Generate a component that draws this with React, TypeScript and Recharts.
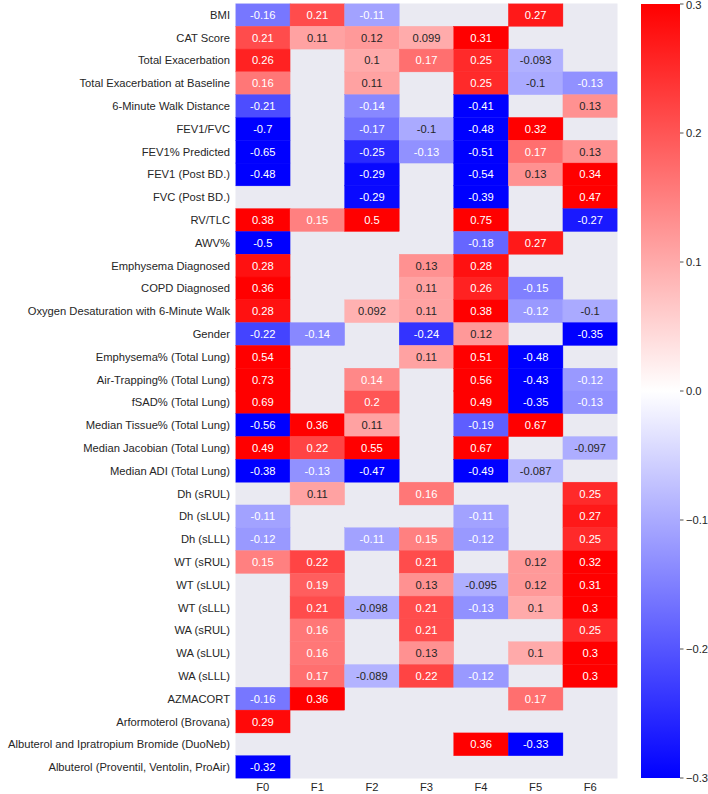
import React from 'react';
import {
  ScatterChart,
  Scatter,
  XAxis,
  YAxis,
  CartesianGrid,
  ComposedChart,
  ReferenceArea,
} from 'recharts';

const rowLabels = [
  'BMI',
  'CAT Score',
  'Total Exacerbation',
  'Total Exacerbation at Baseline',
  '6-Minute Walk Distance',
  'FEV1/FVC',
  'FEV1% Predicted',
  'FEV1 (Post BD.)',
  'FVC (Post BD.)',
  'RV/TLC',
  'AWV%',
  'Emphysema Diagnosed',
  'COPD Diagnosed',
  'Oxygen Desaturation with 6-Minute Walk',
  'Gender',
  'Emphysema% (Total Lung)',
  'Air-Trapping% (Total Lung)',
  'fSAD% (Total Lung)',
  'Median Tissue% (Total Lung)',
  'Median Jacobian (Total Lung)',
  'Median ADI (Total Lung)',
  'Dh (sRUL)',
  'Dh (sLUL)',
  'Dh (sLLL)',
  'WT (sRUL)',
  'WT (sLUL)',
  'WT (sLLL)',
  'WA (sRUL)',
  'WA (sLUL)',
  'WA (sLLL)',
  'AZMACORT',
  'Arformoterol (Brovana)',
  'Albuterol and Ipratropium Bromide (DuoNeb)',
  'Albuterol (Proventil, Ventolin, ProAir)',
];

const colLabels = ['F0', 'F1', 'F2', 'F3', 'F4', 'F5', 'F6'];

const F0 = [-0.16, 0.21, 0.26, 0.16, -0.21, -0.7, -0.65, -0.48, null, 0.38, -0.5, 0.28, 0.36, 0.28, -0.22, 0.54, 0.73, 0.69, -0.56, 0.49, -0.38, null, -0.11, -0.12, 0.15, null, null, null, null, null, -0.16, 0.29, null, -0.32];
const F1 = [0.21, 0.11, null, null, null, null, null, null, null, 0.15, null, null, null, null, -0.14, null, null, null, 0.36, 0.22, -0.13, 0.11, null, null, 0.22, 0.19, 0.21, 0.16, 0.16, 0.17, 0.36, null, null, null];
const F2 = [-0.11, 0.12, 0.1, 0.11, -0.14, -0.17, -0.25, -0.29, -0.29, 0.5, null, null, null, 0.092, null, null, 0.14, 0.2, 0.11, 0.55, -0.47, null, null, -0.11, null, null, -0.098, null, null, -0.089, null, null, null, null];
const F3 = [null, 0.099, 0.17, null, null, -0.1, -0.13, null, null, null, null, 0.13, 0.11, 0.11, -0.24, 0.11, null, null, null, null, null, 0.16, null, 0.15, 0.21, 0.13, 0.21, 0.21, 0.13, 0.22, null, null, null, null];
const F4 = [null, 0.31, 0.25, 0.25, -0.41, -0.48, -0.51, -0.54, -0.39, 0.75, -0.18, 0.28, 0.26, 0.38, 0.12, 0.51, 0.56, 0.49, -0.19, 0.67, -0.49, null, -0.11, -0.12, null, -0.095, -0.13, null, null, -0.12, null, null, 0.36, null];
const F5 = [0.27, null, -0.093, -0.1, null, 0.32, 0.17, 0.13, null, null, 0.27, null, -0.15, -0.12, null, -0.48, -0.43, -0.35, 0.67, null, -0.087, null, null, null, 0.12, 0.12, 0.1, null, 0.1, null, 0.17, null, -0.33, null];
const F6 = [null, null, null, -0.13, 0.13, null, 0.13, 0.34, 0.47, -0.27, null, null, null, -0.1, -0.35, null, -0.12, -0.13, null, -0.097, null, 0.25, 0.27, 0.25, 0.32, 0.31, 0.3, 0.25, 0.3, 0.3, null, null, null, null];

const columns = [F0, F1, F2, F3, F4, F5, F6];

const cbarTicks = [-0.3, -0.2, -0.1, 0, 0.1, 0.2, 0.3];
const VMIN = -0.3;
const VMAX = 0.3;

const W = 708;
const H = 794;
const PLOT_L = 235.5;
const PLOT_R = 617.5;
const PLOT_T = 3.5;
const PLOT_B = 778.5;
const CBAR_L = 641;
const CBAR_R = 680;
const CELL_W = (PLOT_R - PLOT_L) / colLabels.length;
const CELL_H = (PLOT_B - PLOT_T) / rowLabels.length;
const FONT = '"Liberation Sans", Arial, Helvetica, sans-serif';
const FS = 11.2;
const TEXT_DARK = '#262626';

function bwr(v: number): [number, number, number] {
  let t = (v - VMIN) / (VMAX - VMIN);
  t = Math.max(0, Math.min(1, t));
  if (t < 0.5) {
    const c = 2 * t;
    return [c, c, 1];
  }
  const c = 2 * (1 - t);
  return [1, c, c];
}

function lin(c: number) {
  return c <= 0.03928 ? c / 12.92 : Math.pow((c + 0.055) / 1.055, 2.4);
}

function textColorFor(rgb: [number, number, number]) {
  const lum = 0.2126 * lin(rgb[0]) + 0.7152 * lin(rgb[1]) + 0.0722 * lin(rgb[2]);
  return lum > 0.408 ? TEXT_DARK : '#ffffff';
}

type Cell = { x: number; y: number; v: number };
const cells: Cell[] = [];
columns.forEach((col, ci) => {
  col.forEach((v, ri) => {
    if (v !== null && v !== undefined) cells.push({ x: ci, y: ri, v: v as number });
  });
});

const CellShape = (props: any) => {
  const { cx, cy, payload } = props;
  if (cx == null || cy == null || !payload) return null;
  const rgb = bwr(payload.v);
  const fill = `rgb(${Math.round(rgb[0] * 255)},${Math.round(rgb[1] * 255)},${Math.round(rgb[2] * 255)})`;
  return (
    <g>
      <rect
        x={cx - CELL_W / 2}
        y={cy - CELL_H / 2}
        width={CELL_W}
        height={CELL_H}
        fill={fill}
        stroke={fill}
        strokeWidth={0.4}
      />
      <text
        x={cx}
        y={cy}
        textAnchor="middle"
        dominantBaseline="central"
        fontSize={FS}
        fontFamily={FONT}
        fill={textColorFor(rgb)}
      >
        {String(payload.v)}
      </text>
    </g>
  );
};

const xTicks = colLabels.map((_, i) => i);
const yTicks = rowLabels.map((_, i) => i);

const fmtCbar = (v: number) => {
  if (Math.abs(v) < 1e-9) return '0.0';
  const s = Math.abs(v).toFixed(1);
  return v < 0 ? '\u2212' + s : s;
};

const RowTick = (props: any) => {
  const { x, y, payload } = props;
  return (
    <text
      x={x}
      y={y}
      textAnchor="end"
      dominantBaseline="central"
      fontSize={FS}
      fontFamily={FONT}
      fill={TEXT_DARK}
    >
      {rowLabels[payload.value] ?? ''}
    </text>
  );
};

const ColTick = (props: any) => {
  const { x, y, payload } = props;
  return (
    <text
      x={x}
      y={y}
      textAnchor="middle"
      dominantBaseline="hanging"
      fontSize={FS}
      fontFamily={FONT}
      fill={TEXT_DARK}
    >
      {colLabels[payload.value] ?? ''}
    </text>
  );
};

const CbarTick = (props: any) => {
  const { x, y, payload } = props;
  const yy = Math.max(y, 5);
  return (
    <text
      x={x}
      y={yy}
      textAnchor="start"
      dominantBaseline="central"
      fontSize={FS}
      fontFamily={FONT}
      fill={TEXT_DARK}
    >
      {fmtCbar(payload.value)}
    </text>
  );
};

export default function App() {
  return (
    <div style={{ position: 'absolute', left: 0, top: 0, width: W, height: H, background: '#ffffff' }}>
      <svg width={0} height={0} style={{ position: 'absolute' }}>
        <defs>
          <linearGradient id="cbarGrad" x1="0" y1="0" x2="0" y2="1">
            <stop offset="0" stopColor="rgb(255,0,0)" />
            <stop offset="0.5" stopColor="rgb(255,255,255)" />
            <stop offset="1" stopColor="rgb(0,0,255)" />
          </linearGradient>
        </defs>
      </svg>
      <div style={{ position: 'absolute', left: 0, top: 0 }}>
        <ScatterChart
          width={W}
          height={H}
          margin={{ top: PLOT_T, right: W - PLOT_R, bottom: 0, left: 0 }}
        >
          <CartesianGrid horizontal={false} vertical={false} fill="#EAEAF2" stroke="none" />
          <XAxis
            type="number"
            dataKey="x"
            domain={[-0.5, colLabels.length - 0.5]}
            ticks={xTicks}
            interval={0}
            allowDataOverflow
            axisLine={false}
            tickLine={false}
            tickSize={0}
            tickMargin={4}
            height={H - PLOT_B}
            tick={<ColTick />}
          />
          <YAxis
            type="number"
            dataKey="y"
            domain={[-0.5, rowLabels.length - 0.5]}
            reversed
            ticks={yTicks}
            interval={0}
            allowDataOverflow
            axisLine={false}
            tickLine={false}
            tickSize={0}
            tickMargin={5.5}
            width={PLOT_L}
            tick={<RowTick />}
          />
          <Scatter data={cells} shape={CellShape} isAnimationActive={false} />
        </ScatterChart>
      </div>
      <div style={{ position: 'absolute', left: 0, top: 0 }}>
        <ComposedChart
          width={W}
          height={H}
          data={[{ x: 0 }]}
          margin={{ top: 4, bottom: H - 778, left: CBAR_L, right: 0 }}
        >
          <XAxis dataKey="x" hide />
          <YAxis
            orientation="right"
            type="number"
            domain={[VMIN, VMAX]}
            ticks={cbarTicks}
            interval={0}
            allowDataOverflow
            width={W - CBAR_R}
            axisLine={false}
            tickSize={3.5}
            tickMargin={2.5}
            tickLine={{ stroke: TEXT_DARK, strokeWidth: 0.8 }}
            tick={<CbarTick />}
          />
          <ReferenceArea
            y1={VMIN}
            y2={VMAX}
            fill="url(#cbarGrad)"
            fillOpacity={1}
            stroke="none"
          />
        </ComposedChart>
      </div>
    </div>
  );
}
